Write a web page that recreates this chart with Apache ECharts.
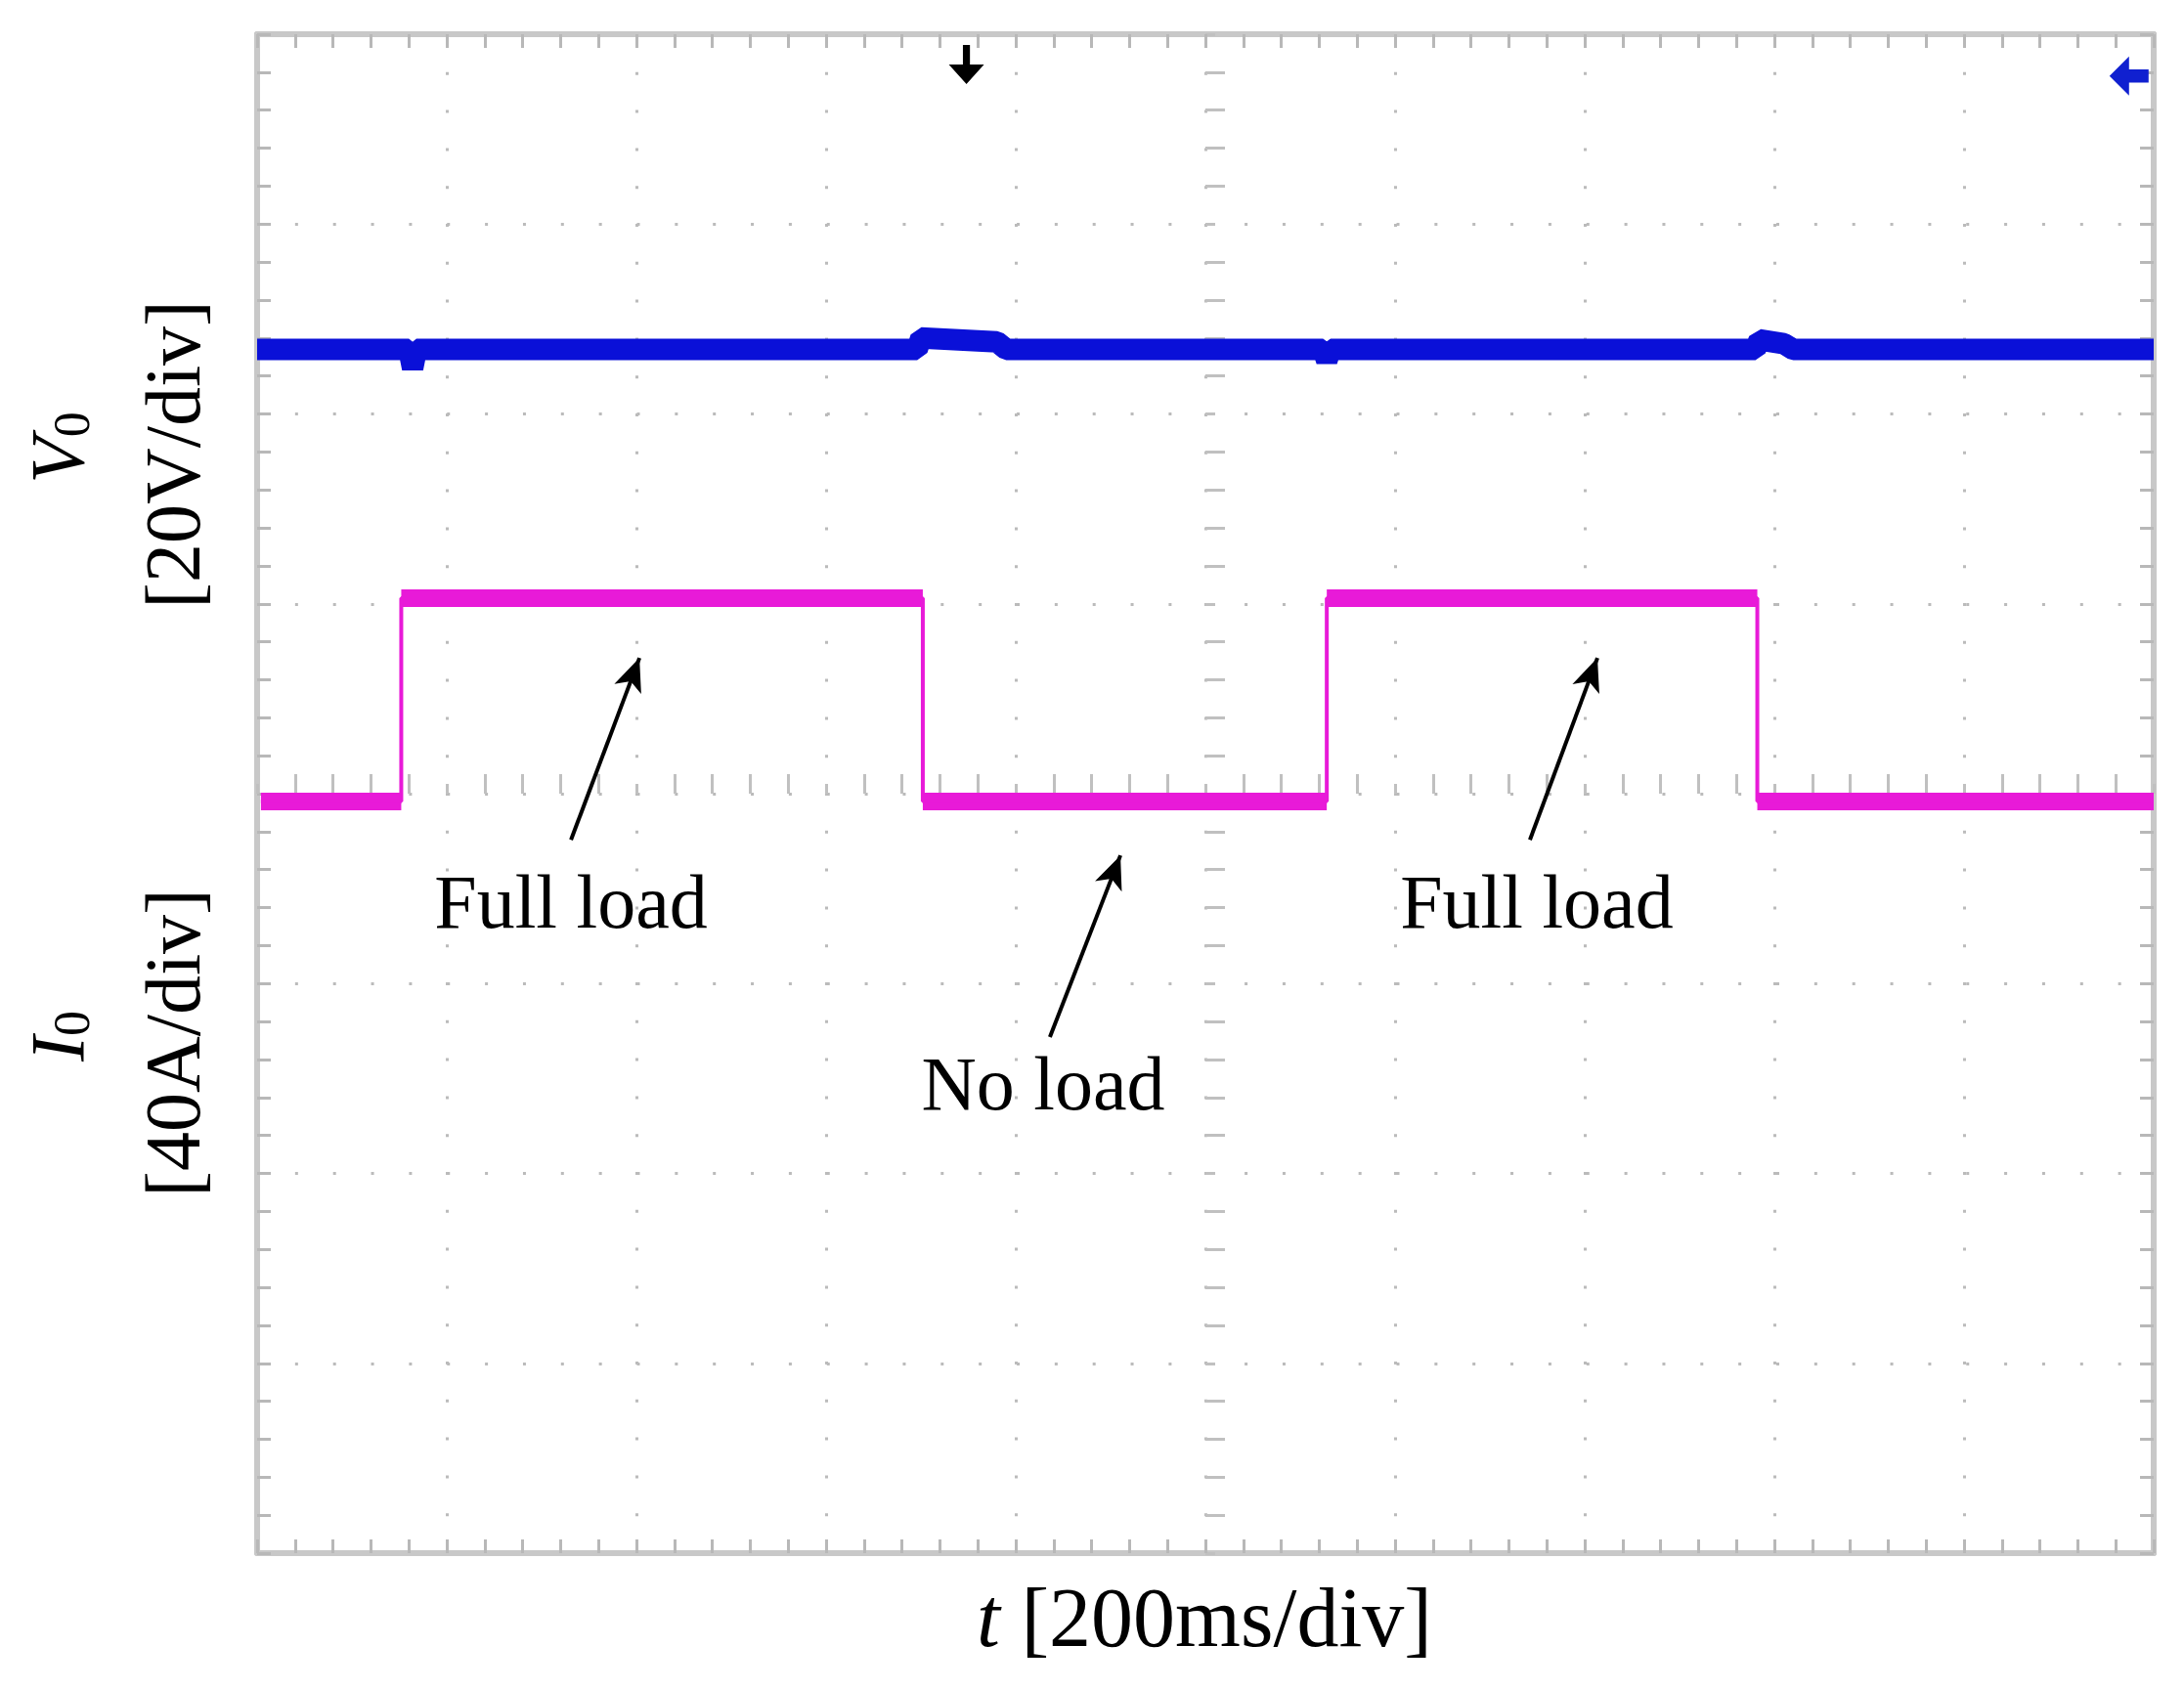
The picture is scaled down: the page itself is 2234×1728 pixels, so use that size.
<!DOCTYPE html>
<html><head><meta charset="utf-8">
<script src="https://cdn.jsdelivr.net/npm/echarts@6/dist/echarts.min.js"></script>
<style>html,body{margin:0;background:#fff}#c{width:2234px;height:1728px}</style></head>
<body><div id="c"></div>
<script>
// time in divisions (0..10), amplitude in divisions from bottom (0..8)
const voltage = [[0,6.34],[0.80,6.34],[0.82,6.24],[0.84,6.34],[3.48,6.34],[3.50,6.40],[3.9,6.38],[3.95,6.34],[5.62,6.34],[5.64,6.28],[5.66,6.34],[7.9,6.34],[7.92,6.39],[8.05,6.37],[8.1,6.34],[10,6.34]];
const current = [[0.02,3.96],[0.76,3.96],[0.76,5.03],[3.51,5.03],[3.51,3.96],[5.64,3.96],[5.64,5.03],[7.91,5.03],[7.91,3.96],[10,3.96]];
const arrows = [[[1.655,3.757],[2.016,4.715]],[[4.180,2.718],[4.552,3.675]],[[6.711,3.757],[7.067,4.715]]];
const notes = [[1.655,3.40,'Full load'],[4.144,2.445,'No load'],[6.747,3.40,'Full load']];
const serif = 'Liberation Serif';
const chart = echarts.init(document.getElementById('c'));
const frame = {show:true,onZero:false,lineStyle:{color:'#c8c8c8',width:6}};
const bt = {show:true,inside:true,length:14,lineStyle:{color:'#b8b8b8',width:3}};
const ot = {show:true,inside:false,length:14,lineStyle:{color:'#b8b8b8',width:3}};
const mt = {show:true,splitNumber:5,length:14,lineStyle:{color:'#b8b8b8',width:3}};
const ct = {show:true,inside:false,length:10,lineStyle:{color:'#c0c0c0',width:3}};
const cmt = {show:true,splitNumber:5,length:20,lineStyle:{color:'#c0c0c0',width:3}};
chart.setOption({
  animation:false,
  grid:{left:263,right:31,top:35,bottom:139},
  xAxis:[
    {type:'value',min:0,max:10,interval:1,position:'bottom',axisLine:frame,axisLabel:{show:false},
     axisTick:{show:false},minorTick:{show:false},
     splitLine:{show:true,lineStyle:{color:'#bbb',width:3,type:[3,35.8]}}},
    {type:'value',min:0,max:10,interval:1,position:'top',offset:0,axisLine:frame,axisLabel:{show:false},axisTick:bt,
     minorTick:mt,splitLine:{show:false}},
    {type:'value',min:0,max:10,interval:1,position:'top',offset:-777,axisLine:{show:false},axisLabel:{show:false},
     axisTick:ct,minorTick:cmt,splitLine:{show:false}},
    {type:'value',min:0,max:10,interval:1,position:'top',offset:-1554,axisLine:{show:false},axisLabel:{show:false},
     axisTick:ot,minorTick:mt,splitLine:{show:false}}
  ],
  yAxis:[
    {type:'value',min:0,max:8,interval:1,position:'left',offset:0,axisLine:frame,axisLabel:{show:false},axisTick:bt,
     minorTick:mt,splitLine:{show:true,lineStyle:{color:'#bbb',width:3,type:[3,35.85]}}},
    {type:'value',min:0,max:8,interval:1,position:'right',offset:0,axisLine:frame,axisLabel:{show:false},axisTick:bt,
     minorTick:mt,splitLine:{show:false}},
    {type:'value',min:0,max:8,interval:1,position:'right',offset:-970,axisLine:{show:false},axisLabel:{show:false},
     axisTick:ct,minorTick:cmt,splitLine:{show:false}}
  ],
  series:[
    {type:'line',data:voltage,showSymbol:false,lineStyle:{color:'#0a10d8',width:22},z:5},
    {type:'line',data:current,showSymbol:false,lineStyle:{color:'#e81ad8',width:4},z:5,
     markLine:{silent:true,symbol:['none','none'],label:{show:false},
       lineStyle:{color:'#e81ad8',width:18,type:'solid'},
       data:[[{coord:[0.02,3.96]},{coord:[0.76,3.96]}],[{coord:[0.76,5.03]},{coord:[3.51,5.03]}],
             [{coord:[3.51,3.96]},{coord:[5.64,3.96]}],[{coord:[5.64,5.03]},{coord:[7.91,5.03]}],
             [{coord:[7.91,3.96]},{coord:[10,3.96]}]]}},
    {type:'scatter',data:[],
     markLine:{silent:true,symbol:['none','arrow'],symbolSize:[22,34],label:{show:false},
       lineStyle:{color:'#000',width:4,type:'solid'},
       data:arrows.map(a=>[{coord:a[0]},{coord:a[1]}])}},
    {type:'scatter',data:notes.map(n=>({value:[n[0],n[1]],name:n[2]})),symbolSize:0,itemStyle:{opacity:1},
     label:{show:true,position:'inside',formatter:p=>p.name,fontFamily:serif,fontSize:78,color:'#000',opacity:1}},
    {type:'scatter',itemStyle:{opacity:1},data:[{value:[3.74,7.84],symbol:'path://M4,0 L6,0 L6,6 L10,6 L5,12 L0,6 L4,6 Z',symbolSize:[36,40],itemStyle:{color:'#000',opacity:1}},
                          {value:[9.87,7.78],symbol:'path://M12,4 L12,8 L6,8 L6,12 L0,6 L6,0 L6,4 Z',symbolSize:[40,40],itemStyle:{color:'#1020d0',opacity:1}}]}
  ],
  graphic:[
    {type:'text',x:64,y:458,rotation:Math.PI/2,style:{text:'{i|V}{s|0}',rich:{i:{fontStyle:'italic',fontFamily:serif,fontSize:78},s:{fontFamily:serif,fontSize:52,verticalAlign:'bottom'}},align:'center',verticalAlign:'middle',fill:'#000'}},
    {type:'text',x:183,y:465,rotation:Math.PI/2,style:{text:'[20V/div]',fontFamily:serif,fontSize:80,align:'center',verticalAlign:'middle',fill:'#000'}},
    {type:'text',x:64,y:1060,rotation:Math.PI/2,style:{text:'{i|I}{s|0}',rich:{i:{fontStyle:'italic',fontFamily:serif,fontSize:78},s:{fontFamily:serif,fontSize:52,verticalAlign:'bottom'}},align:'center',verticalAlign:'middle',fill:'#000'}},
    {type:'text',x:183,y:1067,rotation:Math.PI/2,style:{text:'[40A/div]',fontFamily:serif,fontSize:80,align:'center',verticalAlign:'middle',fill:'#000'}},
    {type:'text',x:1232,y:1661,style:{text:'{i|t} [200ms/div]',rich:{i:{fontStyle:'italic',fontFamily:serif,fontSize:86}},fontFamily:serif,fontSize:86,align:'center',verticalAlign:'middle',fill:'#000'}}
  ]
});
</script></body></html>
